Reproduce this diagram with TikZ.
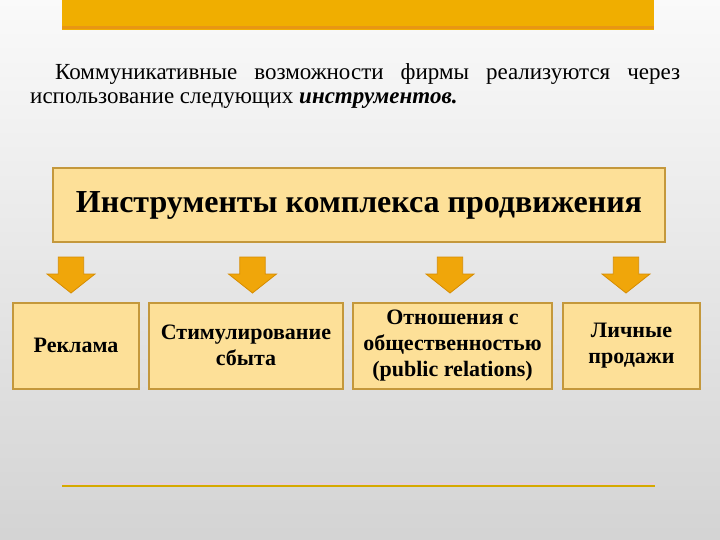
\documentclass[tikz,border=0pt]{standalone}
\usepackage{fontspec}
\setmainfont{Liberation Serif}
\definecolor{barorange}{RGB}{240,174,0}
\definecolor{bardark}{RGB}{232,150,20}
\definecolor{boxfill}{RGB}{253,224,152}
\definecolor{boxedge}{RGB}{196,152,60}
\definecolor{arrowfill}{RGB}{240,166,10}
\definecolor{arrowedge}{RGB}{214,140,0}
\definecolor{linegold}{RGB}{214,168,0}
\definecolor{linepink}{RGB}{240,200,220}
\tikzset{
  toolbox/.style={draw=boxedge, line width=2pt, fill=boxfill, align=center,
    font=\fontsize{22}{26}\selectfont\bfseries, inner sep=0pt},
  downarrow/.style={fill=arrowfill, draw=arrowedge, line width=0.8pt, line join=miter},
  paratext/.style={anchor=base west, inner sep=0pt, font=\fontsize{23}{24}\selectfont},
}
\begin{document}
\begin{tikzpicture}[x=1pt,y=-1pt]
\useasboundingbox (0,0) rectangle (720,540);
\shade[top color=white!98!black, bottom color=white!83!black] (0,0) rectangle (720,540);
% top bar
\fill[barorange] (62,0) rectangle (654,30);
\fill[bardark] (62,26) rectangle (654,29);
% paragraph
\node[paratext] (l1) at (55,80)
  {\makebox[625pt][s]{Коммуникативные возможности фирмы реализуются через}};
\node[paratext] (l2) at (30,104)
  {использование следующих \textbf{\textit{инструментов.}}};
% main box
\node[toolbox, minimum width=612pt, minimum height=74pt, font=\fontsize{32}{34}\selectfont\bfseries] (main) at (359,205)
  {Инструменты комплекса продвижения};
% arrows
\foreach \cx/\nm in {71/a1,252.5/a2,450/a3,626/a4}{
  \draw[downarrow] (\cx-12.7,257) -- (\cx+12.7,257) -- (\cx+12.7,274) -- (\cx+24,274)
    -- (\cx,293) -- (\cx-24,274) -- (\cx-12.7,274) -- cycle;
}
% bottom boxes
\node[toolbox, minimum width=126pt, minimum height=86pt] (b1) at (76,345.5) {Реклама};
\node[toolbox, minimum width=194pt, minimum height=86pt] (b2) at (246,345.5) {Стимулирование\\сбыта};
\node[toolbox, minimum width=199pt, minimum height=86pt] (b3) at (452.5,345.5) {Отношения с\\общественностью\\(public relations)};
\node[toolbox, minimum width=137pt, minimum height=86pt] (b4) at (631.5,345.5) {Личные\\продажи};
% bottom line
\draw[linepink, line width=1.5pt] (62,483.5) -- (655,483.5);
\draw[linegold, line width=2.5pt] (62,486) -- (655,486);
\end{tikzpicture}
\end{document}
